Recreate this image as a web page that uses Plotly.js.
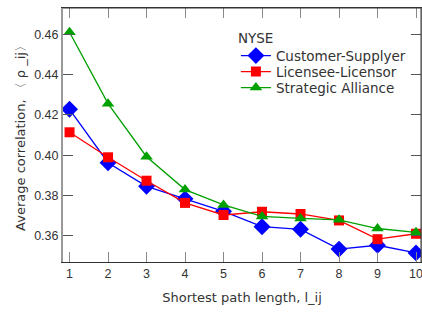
<!DOCTYPE html>
<html><head><meta charset="utf-8">
<script src="https://cdn.plot.ly/plotly-3.0.1.min.js"></script>
<style>html,body{margin:0;padding:0;background:#fff}</style>
</head><body><div id="chart" style="width:422px;height:314px"></div>
<script>
const pathLength = [1,2,3,4,5,6,7,8,9,10];
const customerSupplyer = [0.4228,0.3963,0.3846,0.3784,0.3722,0.3646,0.3633,0.3535,0.3554,0.3516];
const licenseeLicensor = [0.4114,0.3990,0.3874,0.3764,0.3704,0.3720,0.3709,0.3677,0.3584,0.3611];
const strategicAlliance = [0.4610,0.4256,0.3993,0.3830,0.3754,0.3697,0.3687,0.3680,0.3637,0.3618];
const seriesNames = ["Customer-Supplyer","Licensee-Licensor","Strategic Alliance"];
const xTicks = [1,2,3,4,5,6,7,8,9,10];
const yTicks = [0.36,0.38,0.40,0.42,0.44,0.46];

const FONT = "Liberation Sans, Arial, sans-serif";
const WIDE = "DejaVu Sans, sans-serif";
const traces = [
  {x:pathLength,y:customerSupplyer,name:seriesNames[0],mode:'lines+markers',
   line:{color:'#0000ff',width:1.3},marker:{symbol:'diamond',size:13,color:'#0000ff'}},
  {x:pathLength,y:licenseeLicensor,name:seriesNames[1],mode:'lines+markers',
   line:{color:'#ff0000',width:1.3},marker:{symbol:'square',size:10,color:'#ff0000'}},
  {x:pathLength,y:strategicAlliance,name:seriesNames[2],mode:'lines+markers',
   line:{color:'#00a000',width:1.3},marker:{symbol:'triangle-up',size:11,color:'#00a000'}}
];
const layout = {
  width:422,height:314,
  margin:{l:63,r:1,t:8,b:52},
  paper_bgcolor:'#fff',plot_bgcolor:'#fff',
  font:{family:FONT,size:12.5,color:'#333'},
  showlegend:true,
  legend:{x:0.483,y:0.93,xanchor:'left',yanchor:'top',bgcolor:'rgba(0,0,0,0)',
    title:{text:'NYSE',font:{family:WIDE,size:13.5,color:'#333'}},
    font:{family:WIDE,size:13.5,color:'#333'},
    tracegroupgap:0,itemwidth:30},
  xaxis:{range:[0.83,10.13],tickvals:xTicks,ticktext:xTicks.map(String),
    ticks:'inside',ticklen:10,tickcolor:'#888',tickwidth:1,mirror:'ticks',
    showline:true,linecolor:'#333',linewidth:1,showgrid:false,zeroline:false,
    ticklabeloverflow:'allow',
    tickfont:{size:12.5,color:'#333'},
    title:{text:'Shortest path length, l_ij',font:{family:WIDE,size:13,color:'#333'},standoff:12}},
  yaxis:{range:[0.3471,0.473],tickvals:yTicks,ticktext:yTicks.map(v=>v.toFixed(2)),
    ticks:'inside',ticklen:10,tickcolor:'#555',tickwidth:1,mirror:'ticks',
    showline:true,linecolor:'#999',linewidth:2,showgrid:false,zeroline:false,
    tickfont:{size:12.5,color:'#333'},
    title:{text:'Average correlation, 〈 ρ _ij〉',font:{family:WIDE,size:13,color:'#333'},standoff:6}},
  shapes:[
    {type:'line',xref:'paper',yref:'paper',x0:1,x1:1,y0:0,y1:1,line:{color:'#333',width:1}},
    {type:'line',xref:'paper',yref:'paper',x0:0,x1:1,y0:1,y1:1,line:{color:'#333',width:1}}
  ]
};
Plotly.newPlot('chart',traces,layout,{displayModeBar:false,staticPlot:true}).then(function(gd){
  // tighten legend row spacing to 16px like the reference
  const items = gd.querySelectorAll('.legend .traces');
  let y0 = null;
  items.forEach(function(g,i){
    const m = /translate\(([-\d.]+)[ ,]+([-\d.]+)\)/.exec(g.getAttribute('transform')||'');
    if(!m) return;
    const x = parseFloat(m[1]); const y = parseFloat(m[2]);
    if(y0===null) y0 = y - 3;
    g.setAttribute('transform','translate('+x+','+(y0+i*16)+')');
  });
});
</script></body></html>
